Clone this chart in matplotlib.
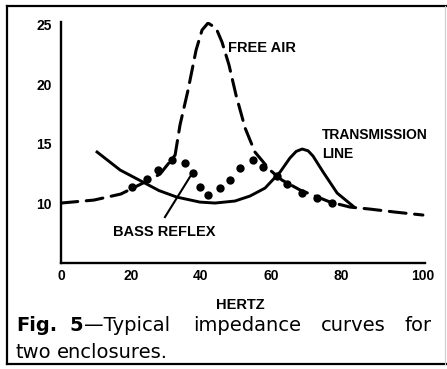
import matplotlib.pyplot as plt
from matplotlib.lines import Line2D

W, H = 447, 369

# Impedance curves (ohms vs hertz)
free_air_hz = [0, 9.4, 17.1, 23.4, 28.3, 32.6, 34.0, 36.3, 38.6, 40.3, 42.0, 44.3, 46.0,
               48.0, 50.0, 52.6, 55.4, 59.7, 63.1, 68.3, 76.9, 82.6, 88.3, 95.4, 103.4]
free_air_ohms = [10.0, 10.25, 10.76, 11.68, 12.44, 14.04, 16.57, 19.52, 22.89, 24.57, 25.16,
                 24.74, 23.56, 21.63, 19.1, 16.32, 14.3, 12.78, 11.94, 11.1, 10.08, 9.66,
                 9.49, 9.24, 8.99]

trans_line_hz = [10.3, 16.9, 23.4, 28.0, 33.1, 39.7, 44.0, 49.7, 54.0, 58.3, 62.6, 65.4,
                 67.2, 68.9, 70.6, 72.0, 74.9, 78.9, 83.4]
trans_line_ohms = [14.3, 12.78, 11.77, 11.05, 10.5, 10.08, 10.0, 10.17, 10.59, 11.26, 12.61,
                   13.79, 14.35, 14.55, 14.4, 13.96, 12.61, 10.84, 9.75]

bass_reflex_hz = [20.3, 24.6, 27.7, 31.7, 35.4, 37.7, 39.7, 42.0, 45.4, 48.3, 51.1, 54.9,
                  57.7, 61.7, 64.6, 68.9, 73.1, 77.4]
bass_reflex_ohms = [11.35, 12.02, 12.78, 13.62, 13.37, 12.53, 11.35, 10.67, 11.26, 11.94,
                    12.95, 13.62, 13.03, 12.27, 11.6, 10.84, 10.42, 10.0]

x_ticks = [0, 20, 40, 60, 80, 100]
y_ticks = [10, 15, 20, 25]

bold = dict(family='Liberation Sans', fontweight='bold')

fig = plt.figure(figsize=(W / 100, H / 100), dpi=100)
ax = fig.add_axes([61 / W, 1 - 263 / H, 364 / W, 241 / H])

ax.plot(free_air_hz, free_air_ohms, color='black', lw=2.2, dashes=(5.5, 2.8),
        dash_capstyle='round', solid_joinstyle='round')
ax.plot(trans_line_hz, trans_line_ohms, color='black', lw=2.1, solid_joinstyle='round')
ax.plot(bass_reflex_hz, bass_reflex_ohms, 'o', color='black', ms=6, mew=0)

# pointer from the bass reflex dip to its label
ax.plot([37.7, 29.7], [12.61, 8.82], color='black', lw=1.5)

ax.text(47.7, 23.06, 'FREE AIR', ha='left', va='center', fontsize=10.5, **bold)
ax.text(74.6, 14.9, 'TRANSMISSION\nLINE', ha='left', va='center', fontsize=10,
        linespacing=1.45, **bold)
ax.text(29.4, 7.56, 'BASS REFLEX', ha='center', va='center', fontsize=10.5, **bold)

ax.set_xlim(0, 104)
ax.set_ylim(4.95, 25.25)
ax.set_xticks(x_ticks)
ax.set_yticks(y_ticks)
ax.tick_params(length=0)
ax.tick_params(axis='x', pad=4)
ax.tick_params(axis='y', pad=6.5)
for lab in ax.get_xticklabels() + ax.get_yticklabels():
    lab.set_fontfamily('Liberation Sans')
    lab.set_fontweight('bold')
    lab.set_fontsize(10)
ax.get_xticklabels()[-1].set_ha('left')
for side in ('top', 'right'):
    ax.spines[side].set_visible(False)
for side in ('left', 'bottom'):
    ax.spines[side].set_linewidth(1.7)

fig.text(240 / W, 1 - 305 / H, 'HERTZ', ha='center', va='center', fontsize=10.5, **bold)

# caption, set word by word so the first line is justified
cap = dict(family='DejaVu Sans', fontsize=14, va='baseline')
y1 = 1 - 331 / H
y2 = 1 - 358 / H
fig.text(16 / W, y1, 'Fig.', fontweight='bold', ha='left', **cap)
fig.text(69 / W, y1, '5', fontweight='bold', ha='left', **cap)
fig.text(84 / W, y1, '\u2014Typical', ha='left', **cap)
fig.text(193 / W, y1, 'impedance', ha='left', **cap)
fig.text(321 / W, y1, 'curves', ha='left', **cap)
fig.text(432 / W, y1, 'for', ha='right', **cap)
fig.text(16 / W, y2, 'two', ha='left', **cap)
fig.text(57 / W, y2, 'enclosures.', ha='left', **cap)

# frame around figure and caption
frame = [([7, 447], [6, 6]), ([7, 7], [6, 364]), ([7, 447], [364, 364])]
for xs, ys in frame:
    fig.add_artist(Line2D([x / W for x in xs], [1 - y / H for y in ys],
                          color='black', lw=1.6, transform=fig.transFigure))
fig.add_artist(Line2D([445 / W, 445 / W], [1 - 6 / H, 1 - 364 / H], color='#cccccc',
                      lw=0.8, transform=fig.transFigure))

fig.savefig('out.png', dpi=100)
